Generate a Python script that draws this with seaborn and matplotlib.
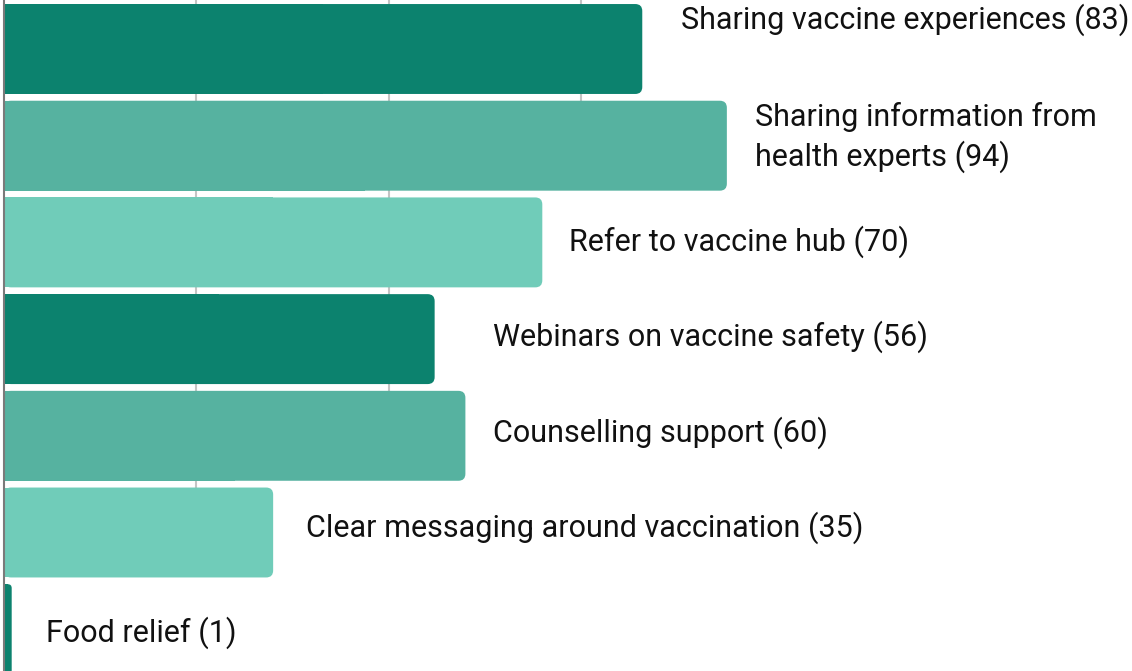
import matplotlib
matplotlib.use("Agg")
import matplotlib.pyplot as plt
from matplotlib.patches import FancyBboxPatch, Rectangle
import seaborn as sns

# ---- data ----
categories = [
    "Sharing vaccine experiences",
    "Sharing information from health experts",
    "Refer to vaccine hub",
    "Webinars on vaccine safety",
    "Counselling support",
    "Clear messaging around vaccination",
    "Food relief",
]
values = [83, 94, 70, 56, 60, 35, 1]
label_texts = [
    "Sharing vaccine experiences (83)",
    "Sharing information from\nhealth experts (94)",
    "Refer to vaccine hub (70)",
    "Webinars on vaccine safety (56)",
    "Counselling support (60)",
    "Clear messaging around vaccination (35)",
    "Food relief (1)",
]
grid_ticks = [25, 50, 75, 100, 125]

# ---- style ----
colors = ["#0c826e", "#56b2a0", "#70ccb9", "#0c826e", "#56b2a0", "#70ccb9", "#0c826e"]
label_dx = [5.0, 3.66, 3.47, 7.59, 3.59, 4.27, 4.46]
label_dy = [-0.305, -0.085, -0.01, -0.025, -0.035, -0.05, 0.035]

sns.set_theme(style="white")
plt.rcParams["font.family"] = ["Roboto", "DejaVu Sans"]

W, H, DPI = 1132, 671, 100
fig = plt.figure(figsize=(W / DPI, H / DPI), dpi=DPI)
left_px = 4
ax = fig.add_axes([left_px / W, 0, 1 - left_px / W, 1])

px_per_x = 7.69
band_px = 96.7
xmax = (W - left_px) / px_per_x
top = -49 / band_px
bottom = 6 + (H - 629.2) / band_px

sns.barplot(x=values, y=categories, hue=categories, palette=colors, legend=False,
            orient="h", width=0.93, ax=ax, saturation=1)

ax.set_xlim(0, xmax)
ax.set_ylim(bottom, top)

# replace bars with right-rounded versions
rad_px = 7
aspect = px_per_x / band_px
old = list(ax.patches)
for p, c in zip(old, colors):
    x0, y0 = p.get_x(), p.get_y()
    w, h = p.get_width(), p.get_height()
    p.remove()
    r = min(rad_px / px_per_x, w * 0.5)
    fb = FancyBboxPatch((x0, y0), w, h,
                        boxstyle=f"round,pad=0,rounding_size={r}",
                        mutation_aspect=aspect, facecolor=c, edgecolor="none",
                        zorder=3)
    ax.add_patch(fb)
    ax.add_patch(Rectangle((x0, y0), w * 0.5, h, facecolor=c, edgecolor="none", zorder=3))

# white row backgrounds hide the grid outside the bars
for i, v in enumerate(values):
    ax.add_patch(Rectangle((v, i - 0.55), xmax - v, 1.1, facecolor="white",
                           edgecolor="none", zorder=1.5))

ax.set_xticks(grid_ticks)
ax.grid(axis="x", color="#c4c4c4", linewidth=1.5, zorder=0.5)
ax.grid(axis="y", visible=False)
ax.set_axisbelow(True)
ax.tick_params(left=False, bottom=False, labelleft=False, labelbottom=False)
ax.set_xlabel("")
ax.set_ylabel("")
for s in ["top", "right", "bottom"]:
    ax.spines[s].set_visible(False)
ax.spines["left"].set_color("#7a7a7a")
ax.spines["left"].set_linewidth(1.5)
ax.spines["left"].set_zorder(4)

for i, (v, t) in enumerate(zip(values, label_texts)):
    ax.text(v + label_dx[i], i + label_dy[i], t, ha="left", va="center",
            fontsize=22, color="#111111", linespacing=1.32, zorder=5)

fig.savefig("out.png", dpi=DPI)
